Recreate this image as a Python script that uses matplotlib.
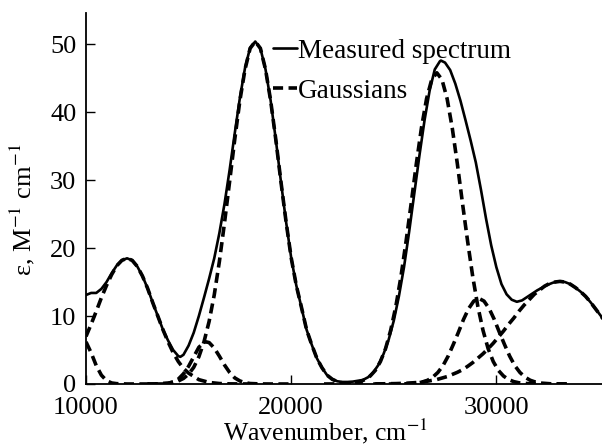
import matplotlib
matplotlib.use("Agg")
import matplotlib.pyplot as plt
from matplotlib.ticker import FixedLocator, FixedFormatter

plt.rcParams['font.family'] = ['Liberation Serif', 'DejaVu Serif']
plt.rcParams['mathtext.fontset'] = 'stix'

# measured spectrum
meas_x = [10000, 10250, 10500, 10750, 11000, 11250, 11500, 11750, 12000, 12250,
          12500, 12750, 13000, 13250, 13500, 13750, 14000, 14250, 14500, 14600,
          14750, 15000, 15250, 15500, 15750, 16000, 16250, 16500, 16750, 17000,
          17250, 17500, 17750, 18000, 18250, 18500, 18750, 19000, 19250, 19500,
          19750, 20000, 20250, 20500, 20750, 21000, 21250, 21500, 21750, 22000,
          22250, 22500, 22750, 23000, 23500, 23750, 24000, 24250, 24500, 24750,
          25000, 25250, 25500, 25750, 26000, 26250, 26500, 26750, 27000, 27250,
          27300, 27500, 27750, 28000, 28250, 28500, 28750, 29000, 29250, 29500,
          29750, 30000, 30250, 30500, 30750, 31000, 31250, 31500, 31750, 32000,
          32250, 32500, 32750, 33000, 33100, 33350, 33600, 33850, 34100, 34350,
          34600, 34850, 35100, 35350]
meas_y = [13.1, 13.4, 13.4, 14.0, 15.0, 16.3, 17.45, 18.2, 18.5, 18.2,
          17.3, 15.9, 14.1, 12.0, 10.0, 8.0, 6.4, 5.0, 4.1, 4.0,
          4.3, 5.65, 7.55, 10.0, 12.7, 15.5, 18.5, 22.2, 26.5, 31.5,
          36.9, 42.1, 46.5, 49.5, 50.4, 49.4, 46.3, 41.7, 36.0, 29.8,
          23.9, 18.6, 14.5, 11.3, 8.0, 5.8, 3.8, 2.4, 1.3, 0.7,
          0.4, 0.3, 0.3, 0.35, 0.6, 1.0, 1.7, 2.8, 4.4, 6.5,
          9.3, 12.9, 17.2, 22.4, 28.0, 33.6, 38.8, 43.2, 46.3, 47.5,
          47.6, 47.3, 46.2, 44.2, 41.7, 38.8, 35.8, 32.6, 28.6, 24.3,
          20.4, 17.2, 14.7, 13.2, 12.4, 12.1, 12.3, 12.8, 13.3, 13.8,
          14.2, 14.6, 14.9, 15.1, 15.1, 15.0, 14.7, 14.2, 13.6, 12.9,
          12.0, 11.0, 10.0, 9.0]

# gaussian components
g1_x = [10000, 10250, 10500, 10750, 11000, 11250, 11500, 12000, 13000, 14000]
g1_y = [6.2, 4.6, 2.7, 1.3, 0.5, 0.15, 0.05, 0.0, 0.0, 0.0]

g2_x = [10000, 10250, 10500, 10750, 11000, 11250, 11500, 11750, 12000, 12250,
        12500, 12750, 13000, 13250, 13500, 13750, 14000, 14250, 14500, 14750,
        15000, 15500, 16000, 16500, 17000, 18000]
g2_y = [7.0, 8.8, 10.7, 12.7, 14.5, 16.1, 17.4, 18.2, 18.5, 18.2,
        17.3, 15.9, 14.1, 12.0, 10.0, 8.0, 6.2, 4.6, 3.3, 2.3,
        1.6, 0.64, 0.23, 0.07, 0.02, 0.0]

g3_x = [13000, 13500, 14000, 14250, 14500, 14750, 15000, 15250, 15500, 15750,
        15850, 16000, 16250, 16500, 16750, 17000, 17250, 17500, 17750, 18000,
        18500, 19000, 20000]
g3_y = [0.0, 0.01, 0.1, 0.3, 0.72, 1.5, 2.6, 4.0, 5.4, 6.1,
        6.2, 6.1, 5.3, 4.1, 2.8, 1.7, 0.9, 0.45, 0.19, 0.07,
        0.01, 0.0, 0.0]

g4_x = [13000, 13500, 14000, 14500, 14750, 15000, 15250, 15500, 15750, 16000,
        16250, 16500, 16750, 17000, 17250, 17500, 17750, 18000, 18250, 18500,
        18750, 19000, 19250, 19500, 19750, 20000, 20250, 20500, 20750, 21000,
        21250, 21500, 21750, 22000, 22250, 22500, 23000, 23500]
g4_y = [0.0, 0.01, 0.12, 0.45, 0.82, 1.45, 2.45, 4.0, 6.2, 9.2,
        13.1, 18.0, 23.7, 29.8, 36.0, 41.7, 46.3, 49.4, 50.4, 49.4,
        46.3, 41.7, 36.0, 29.8, 23.9, 18.6, 14.5, 11.3, 8.0, 5.8,
        3.8, 2.4, 1.3, 0.7, 0.35, 0.15, 0.03, 0.0]

g5_x = [21600, 22100, 22600, 23100, 23350, 23600, 23850, 24100, 24350, 24600,
        24850, 25100, 25350, 25600, 25850, 26100, 26350, 26600, 26850, 27100,
        27350, 27600, 27850, 28100, 28350, 28600, 28850, 29100, 29350, 29600,
        29850, 30100, 30350, 30600, 30850, 31100, 31600, 32100, 33500]
g5_y = [0.0, 0.01, 0.04, 0.18, 0.35, 0.65, 1.17, 2.0, 3.3, 5.2,
        7.9, 11.4, 15.8, 21.0, 26.6, 32.4, 37.7, 42.0, 44.8, 45.8,
        44.8, 42.0, 37.7, 32.4, 26.6, 21.0, 15.8, 11.4, 7.9, 5.2,
        3.3, 2.0, 1.17, 0.65, 0.35, 0.18, 0.04, 0.01, 0.0]

g6_x = [24000, 25000, 25650, 26150, 26400, 26650, 26900, 27150, 27400, 27650,
        27900, 28150, 28400, 28650, 28900, 29150, 29400, 29650, 29900, 30150,
        30400, 30650, 30900, 31150, 31400, 31650, 31900, 32150, 32650, 33500]
g6_y = [0.0, 0.0, 0.03, 0.14, 0.29, 0.55, 1.0, 1.7, 2.7, 4.1,
        5.8, 7.6, 9.5, 11.1, 12.2, 12.6, 12.2, 11.1, 9.5, 7.6,
        5.8, 4.1, 2.7, 1.7, 1.0, 0.55, 0.29, 0.14, 0.03, 0.0]

g7_x = [24100, 25100, 25600, 26100, 26600, 27100, 27600, 28100, 28350, 28600,
        28850, 29100, 29350, 29600, 29850, 30100, 30350, 30600, 30850, 31100,
        31350, 31600, 31850, 32100, 32350, 32600, 32850, 33100, 33350, 33600,
        33850, 34100, 34350, 34600, 34850, 35100, 35350]
g7_y = [0.01, 0.06, 0.11, 0.21, 0.39, 0.66, 1.09, 1.72, 2.1, 2.6,
        3.15, 3.8, 4.45, 5.2, 6.0, 6.9, 7.8, 8.8, 9.7, 10.7,
        11.6, 12.4, 13.2, 13.8, 14.4, 14.8, 15.0, 15.1, 15.0, 14.7,
        14.2, 13.6, 12.9, 12.0, 11.0, 10.0, 9.0]

gaussians = [(g1_x, g1_y), (g2_x, g2_y), (g3_x, g3_y), (g4_x, g4_y),
             (g5_x, g5_y), (g6_x, g6_y), (g7_x, g7_y)]

x_ticks = [10000, 20000, 30000]
x_tick_labels = ['10000', '20000', '30000']
y_ticks = [0, 10, 20, 30, 40, 50]

fig = plt.figure(figsize=(6.02, 4.45), dpi=100)
ax = fig.add_axes([86 / 602, 61 / 445, 516 / 602, 371 / 445])

ax.plot(meas_x, meas_y, color='black', lw=1.9, label='Measured spectrum',
        solid_capstyle='round', solid_joinstyle='round')
for i, (gx, gy) in enumerate(gaussians):
    ax.plot(gx, gy, color='black', lw=2.6, dashes=(2.8, 1.5),
            label='Gaussians' if i == 0 else None)

ax.set_xlim(10000, 35150)
ax.set_ylim(0, 54.6)
ax.xaxis.set_major_locator(FixedLocator(x_ticks))
ax.xaxis.set_major_formatter(FixedFormatter(x_tick_labels))
ax.yaxis.set_major_locator(FixedLocator(y_ticks))

for s in ['top', 'right']:
    ax.spines[s].set_visible(False)
for s in ['left', 'bottom']:
    ax.spines[s].set_linewidth(1.3)
ax.tick_params(direction='in', length=6.5, width=1.0, labelsize=19)
ax.tick_params(axis='y', pad=7)
ax.tick_params(axis='x', pad=9)

ax.set_xlabel('Wavenumber, cm$^{-1}$', fontsize=18.5)
ax.set_ylabel('ε, M$^{-1}$ cm$^{-1}$', fontsize=19)
ax.xaxis.set_label_coords(0.465, -0.087)
ax.yaxis.set_label_coords(-0.095, 0.47)

ax.legend(loc='upper left', bbox_to_anchor=(0.362, 0.93), frameon=False,
          fontsize=19.5, handlelength=0.88, handletextpad=0.05, borderpad=0,
          labelspacing=0.55, borderaxespad=0)

fig.savefig('out.png', dpi=100)
